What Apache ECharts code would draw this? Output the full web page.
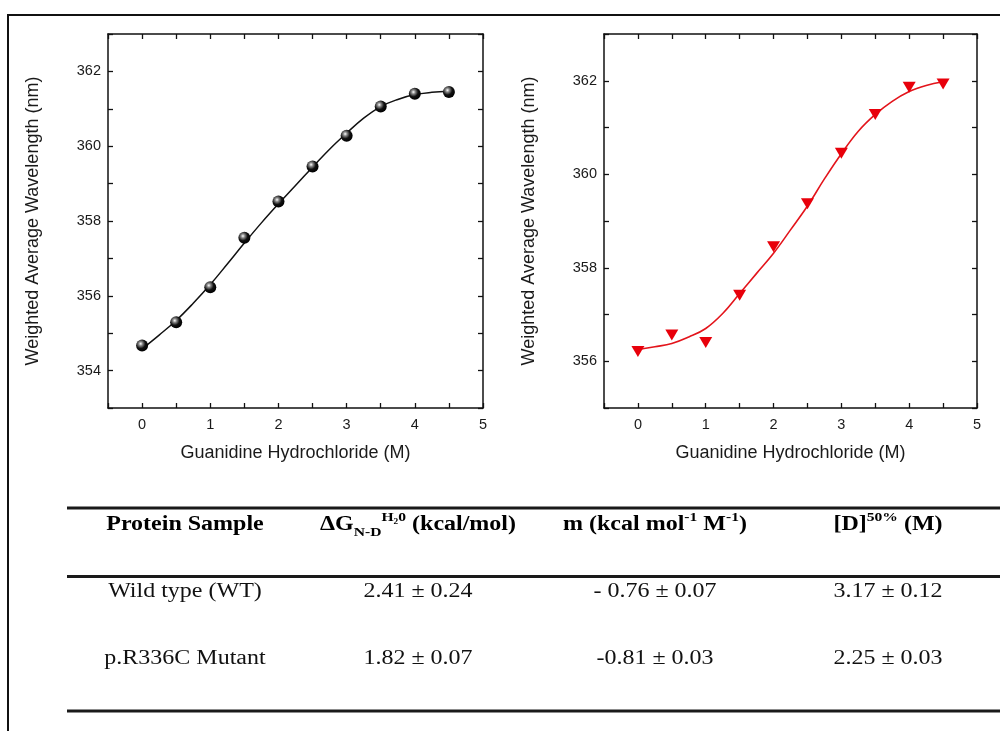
<!DOCTYPE html>
<html>
<head>
<meta charset="utf-8">
<script src="https://cdn.jsdelivr.net/npm/echarts@6/dist/echarts.min.js"></script>
<style>
  html, body { margin: 0; padding: 0; background: #fff; }
  #chart { width: 1000px; height: 731px; }
</style>
</head>
<body>
<div id="chart"></div>
<script>
// ---- Data ----
const xValues = [0, 0.5, 1, 1.5, 2, 2.5, 3, 3.5, 4, 4.5];
const wtValues = [354.67, 355.29, 356.23, 357.55, 358.52, 359.46, 360.28, 361.06, 361.40, 361.45];
const mutValues = [356.21, 356.56, 356.40, 357.41, 358.45, 359.37, 360.45, 361.28, 361.86, 361.93];

const fitX = [0, 0.25, 0.5, 0.75, 1, 1.25, 1.5, 1.75, 2, 2.25, 2.5, 2.75, 3, 3.25, 3.5, 3.75, 4, 4.25, 4.5];
const wtFit = [354.58, 354.95, 355.34, 355.80, 356.30, 356.85, 357.41, 357.95, 358.46, 358.95, 359.44, 359.92, 360.35, 360.75, 361.06, 361.25, 361.38, 361.44, 361.47];
const mutFit = [356.25, 356.31, 356.38, 356.52, 356.70, 357.02, 357.45, 357.88, 358.31, 358.81, 359.32, 359.90, 360.44, 360.92, 361.28, 361.56, 361.77, 361.90, 361.98];

const xAxisName = 'Guanidine Hydrochloride (M)';
const yAxisName = 'Weighted Average Wavelength (nm)';

const tableHeaders = [
  '{b|Protein Sample}',
  '{b|ΔG}{sub|N-D}{sup|H₂0}{b| (kcal/mol)}',
  '{b|m (kcal mol}{sup|-1}{b| M}{sup|-1}{b|)}',
  '{b|[D]}{sup|50%}{b| (M)}'
];
const sampleNames = ['Wild type (WT)', 'p.R336C Mutant'];
const dGValues = ['2.41 ± 0.24', '1.82 ± 0.07'];
const mValues = ['- 0.76 ± 0.07', '-0.81 ± 0.03'];
const d50Values = ['3.17 ± 0.12', '2.25 ± 0.03'];

// ---- Layout ----
const sansFont = '"Liberation Sans", Arial, sans-serif';
const serifFont = '"Liberation Serif", "Times New Roman", serif';
const colX = [185, 418, 655, 888];
const rowY = [592, 659];
const headerY = 525;

function pairs(xs, ys) { return xs.map((x, i) => [x, ys[i]]); }

function xAxes(gridIndex) {
  const common = {
    type: 'value', gridIndex: gridIndex, min: -0.5, max: 5, interval: 0.5,
    axisLine: { show: true, onZero: false, lineStyle: { color: '#111', width: 1.5 } },
    axisTick: { show: true, inside: true, length: 5, lineStyle: { color: '#111', width: 1.3 } },
    splitLine: { show: false }
  };
  return [
    Object.assign({}, common, {
      position: 'bottom',
      axisLabel: {
        color: '#1a1a1a', fontFamily: sansFont, fontSize: 14.5, margin: 9,
        formatter: v => Number.isInteger(v) ? String(v) : ''
      },
      name: xAxisName, nameLocation: 'middle', nameGap: 36,
      nameTextStyle: { color: '#1a1a1a', fontFamily: sansFont, fontSize: 18 }
    }),
    Object.assign({}, common, { position: 'top', axisLabel: { show: false } })
  ];
}

function yAxes(gridIndex, min, max) {
  const common = {
    type: 'value', gridIndex: gridIndex, min: min, max: max, interval: 1,
    axisLine: { show: true, onZero: false, lineStyle: { color: '#111', width: 1.5 } },
    axisTick: { show: true, inside: true, length: 5, lineStyle: { color: '#111', width: 1.3 } },
    splitLine: { show: false }
  };
  return [
    Object.assign({}, common, {
      position: 'left',
      axisLabel: {
        color: '#1a1a1a', fontFamily: sansFont, fontSize: 14.5, margin: 7,
        formatter: v => (v % 2 === 0) ? String(v) : ''
      },
      name: yAxisName, nameLocation: 'middle', nameGap: 66,
      nameTextStyle: { color: '#1a1a1a', fontFamily: sansFont, fontSize: 18 }
    }),
    Object.assign({}, common, { position: 'right', axisLabel: { show: false } })
  ];
}

const richStyles = {
  b: { fontFamily: serifFont, fontWeight: 'bold', fontSize: 20, lineHeight: 28, color: '#111' },
  sub: { fontFamily: serifFont, fontWeight: 'bold', fontSize: 13, lineHeight: 13, verticalAlign: 'bottom', color: '#111' },
  sup: { fontFamily: serifFont, fontWeight: 'bold', fontSize: 13, lineHeight: 13, verticalAlign: 'top', color: '#111' }
};

const graphics = [];
// outer frame
graphics.push({ type: 'line', shape: { x1: 7, y1: 15, x2: 1000, y2: 15 }, style: { stroke: '#111', lineWidth: 2 } });
graphics.push({ type: 'line', shape: { x1: 8, y1: 15, x2: 8, y2: 731 }, style: { stroke: '#111', lineWidth: 2 } });
// table rules
[508, 576.5, 711].forEach(y => {
  graphics.push({ type: 'line', shape: { x1: 67, y1: y, x2: 1000, y2: y }, style: { stroke: '#1a1a1a', lineWidth: 3 } });
});
// headers
tableHeaders.forEach((h, i) => {
  graphics.push({
    type: 'text', x: colX[i], y: headerY, scaleX: 1.2,
    style: { text: h, rich: richStyles, align: 'center', verticalAlign: 'middle' }
  });
});
// rows
const rows = [sampleNames, dGValues, mValues, d50Values];
rows.forEach((col, ci) => {
  col.forEach((txt, ri) => {
    graphics.push({
      type: 'text', x: colX[ci], y: rowY[ri], scaleX: 1.2,
      style: { text: txt, fontFamily: serifFont, fontSize: 20, fill: '#111', align: 'center', verticalAlign: 'middle' }
    });
  });
});

const sphere = {
  type: 'radial', x: 0.38, y: 0.35, r: 0.65,
  colorStops: [
    { offset: 0, color: '#ffffff' },
    { offset: 0.25, color: '#888888' },
    { offset: 0.6, color: '#111111' },
    { offset: 1, color: '#000000' }
  ]
};

const option = {
  animation: false,
  backgroundColor: '#ffffff',
  grid: [
    { left: 108, top: 34, width: 375, height: 374 },
    { left: 604, top: 34, width: 373, height: 374 }
  ],
  xAxis: xAxes(0).concat(xAxes(1)),
  yAxis: yAxes(0, 353, 363).concat(yAxes(1, 355, 363)),
  series: [
    {
      type: 'line', xAxisIndex: 0, yAxisIndex: 0, data: pairs(fitX, wtFit),
      smooth: 0.4, showSymbol: false, symbol: 'none',
      lineStyle: { color: '#111', width: 1.5 }, z: 2
    },
    {
      type: 'scatter', xAxisIndex: 0, yAxisIndex: 0, data: pairs(xValues, wtValues),
      symbol: 'circle', symbolSize: 12,
      itemStyle: { color: sphere, opacity: 1 }, z: 3
    },
    {
      type: 'line', xAxisIndex: 2, yAxisIndex: 2, data: pairs(fitX, mutFit),
      smooth: 0.4, showSymbol: false, symbol: 'none',
      lineStyle: { color: '#e3141b', width: 1.6 }, z: 2
    },
    {
      type: 'scatter', xAxisIndex: 2, yAxisIndex: 2, data: pairs(xValues, mutValues),
      symbol: 'triangle', symbolRotate: 180, symbolSize: [13, 11],
      itemStyle: { color: '#e8000b', opacity: 1 }, z: 3
    }
  ],
  graphic: graphics
};

const chart = echarts.init(document.getElementById('chart'), null, { renderer: 'canvas' });
chart.setOption(option);
</script>
</body>
</html>
